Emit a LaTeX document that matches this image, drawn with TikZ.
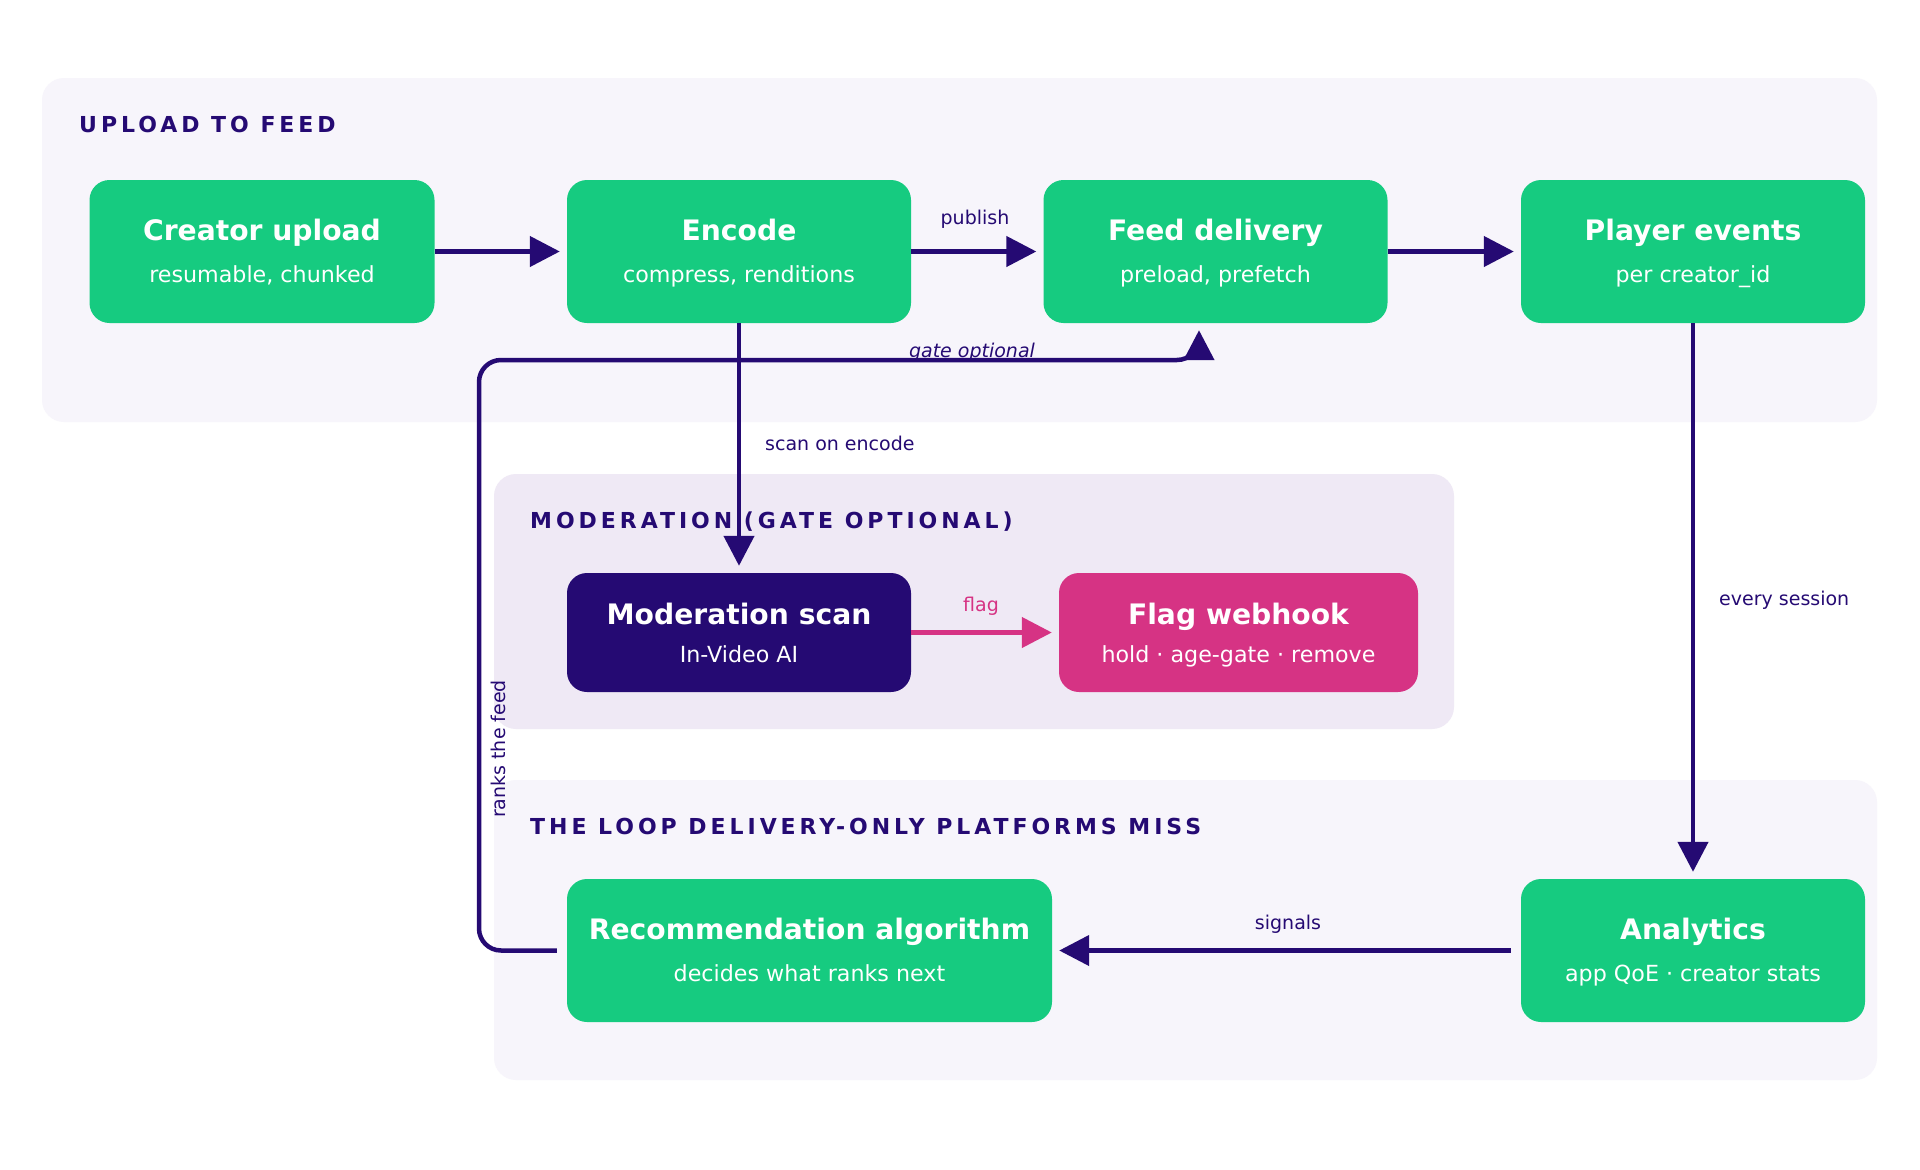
\documentclass[tikz,border=0pt]{standalone}
\usepackage{fontspec}
\setmainfont{DejaVu Sans}
\usetikzlibrary{arrows.meta,calc}
\definecolor{grn}{HTML}{16CB80}
\definecolor{ink}{HTML}{250A73}
\definecolor{pnk}{HTML}{D63384}
\definecolor{bgA}{HTML}{F7F5FB}
\definecolor{bgB}{HTML}{EFE9F5}
\begin{document}
\begin{tikzpicture}[x=1pt,y=-1pt,
  panel/.style={rounded corners=22pt},
  ptitle/.style={anchor=base west, inner sep=0pt, text=ink,
    font=\bfseries\fontsize{22}{26}\selectfont\addfontfeature{LetterSpace=18}},
  box/.style={rounded corners=20pt, inner sep=0pt, minimum width=344pt, minimum height=143pt, fill=grn},
  ttl/.style={anchor=base, inner sep=0pt, text=white, font=\bfseries\fontsize{28.2}{32}\selectfont},
  sub/.style={anchor=base, inner sep=0pt, text=white, font=\fontsize{22.2}{26}\selectfont},
  lbl/.style={inner sep=0pt, text=ink, font=\fontsize{19}{22}\selectfont},
  conn/.style={draw=ink, line width=4.5pt, -{Triangle[length=30pt,width=30pt]}, shorten >=7pt},
]
\useasboundingbox (0,0) rectangle (1920,1170);
\fill[white] (0,0) rectangle (1920,1170);

% panels
\fill[bgA, panel] (42,78) rectangle (1877,422);
\fill[bgB, panel] (494,474) rectangle (1454,729);
\fill[bgA, panel] (494,780) rectangle (1877,1080);

\node[ptitle] (p1) at (79,132) {UPLOAD TO FEED};
\node[ptitle] (p2) at (530,528) {MODERATION (GATE OPTIONAL)};
\node[ptitle] (p3) at (530,834) {THE LOOP DELIVERY-ONLY PLATFORMS MISS};

% boxes
\node[box, minimum width=345pt] (cu) at (262,251.5) {};
\node[box] (enc) at (739,251.5) {};
\node[box] (feed) at (1215.5,251.5) {};
\node[box] (pe) at (1693,251.5) {};
\node[box, fill=ink, minimum height=119pt] (mod) at (739,632.5) {};
\node[box, fill=pnk, minimum width=359pt, minimum height=119pt] (flg) at (1238.5,632.5) {};
\node[box, minimum width=485pt] (rec) at (809.5,950.5) {};
\node[box] (ana) at (1693,950.5) {};

% box texts
\node[ttl] (cu-t) at ($(cu.center)+(0,-11.5)$) {Creator upload};
\node[sub] (cu-s) at ($(cu.center)+(0,30.5)$) {resumable, chunked};
\node[ttl] (enc-t) at ($(enc.center)+(0,-11.5)$) {Encode};
\node[sub] (enc-s) at ($(enc.center)+(0,30.5)$) {compress, renditions};
\node[ttl] (feed-t) at ($(feed.center)+(0,-11.5)$) {Feed delivery};
\node[sub] (feed-s) at ($(feed.center)+(0,30.5)$) {preload, prefetch};
\node[ttl] (pe-t) at ($(pe.center)+(0,-11.5)$) {Player events};
\node[sub] (pe-s) at ($(pe.center)+(0,30.5)$) {per creator\_id};
\node[ttl] (mod-t) at ($(mod.center)+(0,-8.5)$) {Moderation scan};
\node[sub] (mod-s) at ($(mod.center)+(0,30)$) {In-Video AI};
\node[ttl] (flg-t) at ($(flg.center)+(0,-8.5)$) {Flag webhook};
\node[sub] (flg-s) at ($(flg.center)+(0,30)$) {hold · age-gate · remove};
\node[ttl] (rec-t) at ($(rec.center)+(0,-11.5)$) {Recommendation algorithm};
\node[sub] (rec-s) at ($(rec.center)+(0,30.5)$) {decides what ranks next};
\node[ttl] (ana-t) at ($(ana.center)+(0,-11.5)$) {Analytics};
\node[sub] (ana-s) at ($(ana.center)+(0,30.5)$) {app QoE · creator stats};

% feedback loop: recommendation -> feed delivery
\coordinate (g1) at (479,950.5);
\coordinate (g2) at (479,360);
\coordinate (g3) at (1199,360);
\draw[conn] ([xshift=-10pt]rec.west) [rounded corners=22pt] -- (g1) -- (g2) -- (g3) [sharp corners] -- (g3 |- feed.south);
\node[lbl, font=\itshape\fontsize{19}{22}\selectfont] (l-gate) at (972,352.5) {gate optional};
\node[lbl, rotate=90] (l-rank) at (498,749) {ranks the feed};

% main connectors
\draw[conn] (cu.east) -- (enc.west);
\draw[conn] (enc.east) -- (feed.west);
\node[lbl] (l-pub) at (975,219) {publish};
\draw[conn] (feed.east) -- (pe.west);
\draw[conn] (enc.south) -- (mod.north);
\node[lbl, anchor=west] (l-scan) at (765,443) {scan on encode};
\draw[conn, draw=pnk] (mod.east) -- (flg.west);
\node[lbl, text=pnk] (l-flag) at (981,606) {flag};
\draw[conn] (pe.south) -- (ana.north);
\node[lbl, anchor=west] (l-every) at (1719,600) {every session};
\draw[conn, shorten <=10pt] (ana.west) -- (rec.east);
\node[lbl] (l-sig) at (1288,924) {signals};
\end{tikzpicture}
\end{document}
